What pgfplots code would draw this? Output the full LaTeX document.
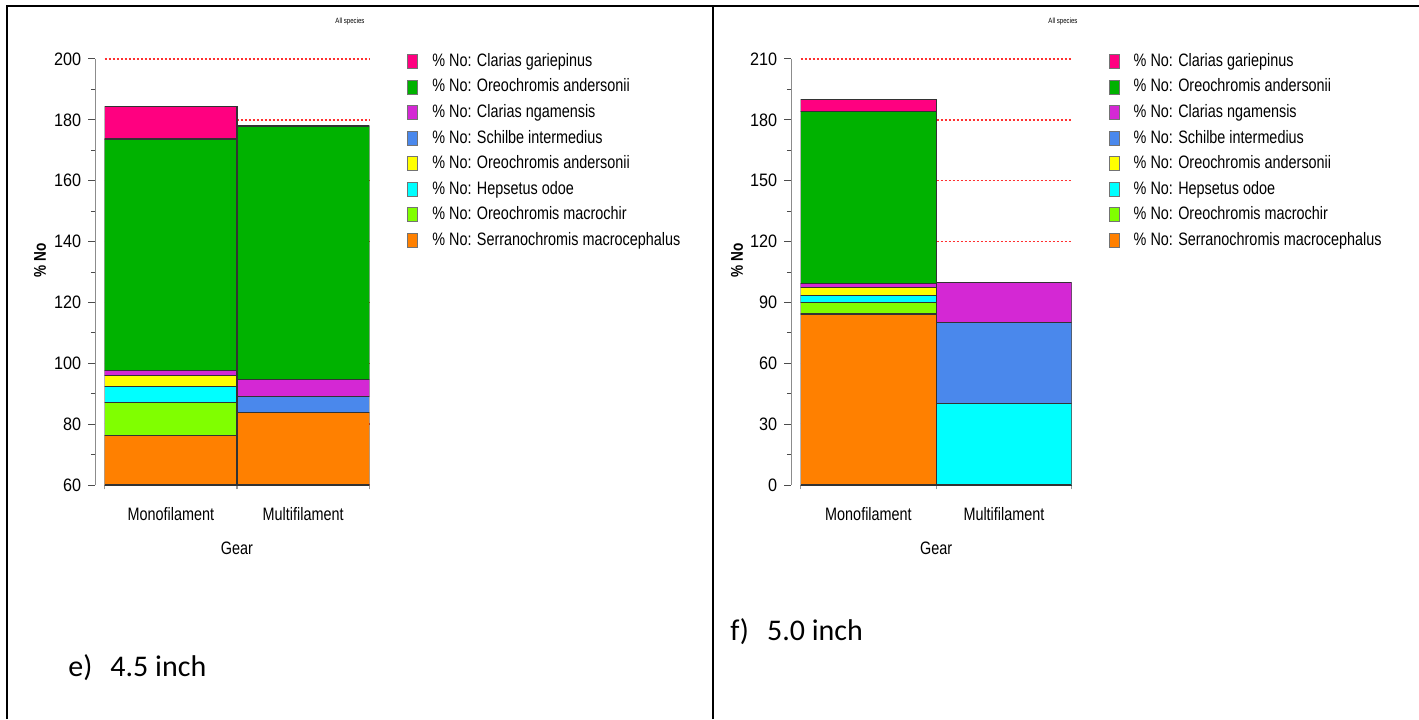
\documentclass[border=0pt]{standalone}
\usepackage{pgfplots}
\pgfplotsset{compat=1.18}
\usepackage{pgfplotstable}
\usepackage{fontspec}
\setmainfont{Carlito}
\newfontfamily\chartfont[FakeStretch=0.8]{Liberation Sans}
\newfontfamily\tickfont[FakeStretch=0.9]{Liberation Sans}

\definecolor{cPink}{HTML}{FF0080}
\definecolor{cGreen}{HTML}{00B200}
\definecolor{cPurple}{HTML}{D428D4}
\definecolor{cBlue}{HTML}{4A88EC}
\definecolor{cYellow}{HTML}{FFFF00}
\definecolor{cCyan}{HTML}{00FFFF}
\definecolor{cLime}{HTML}{80FF00}
\definecolor{cOrange}{HTML}{FF8000}
\definecolor{gridred}{HTML}{FF3030}

% % No by gear; columns run from the bottom of each stack upward
\pgfplotstableread{
pos orange lime cyan yellow blue purple green pink
0   76.4   10.6 5.5  3.4    0    1.7    76.1  10.6
1   83.9   0    0    0      5.2  5.5    83.4  0
}\meshFourFive
\pgfplotstableread{
pos orange lime cyan yellow blue purple green pink
0   84.3   5.6  3.6  4.0    0    1.9    84.6  6.1
1   0      0    40   0      40   20     0     0
}\meshFive

\pgfplotsset{
  gearchart/.style={
    scale only axis, height=213pt,
    ybar stacked, bar width=1,
    xmin=-0.5, xmax=1.5,
    axis lines*=left,
    axis y line shift=4.7pt,
    x axis line style={draw=black!75, line width=0.5pt},
    y axis line style={draw=black!45, line width=0.6pt},
    xtick={0,1}, xticklabels={Monofilament,Multifilament},
    major x tick style={draw=none},
    minor xtick={-0.5,0.5,1.5},
    minor x tick style={draw=black!40, line width=0.6pt},
    minor y tick num=1,
    tick align=outside,
    major tick length=3.5pt, minor tick length=2.2pt,
    major y tick style={draw=black!70, line width=0.5pt},
    minor y tick style={draw=black!70, line width=0.5pt},
    ymajorgrids,
    major grid style={draw=gridred, color=gridred, line width=0.7pt, dash pattern=on 1pt off 1pt},
    /pgf/number format/assume math mode=true,
    yticklabel style={font=\tickfont\fontsize{9}{10}\selectfont},
    xticklabel style={font=\chartfont\fontsize{9}{10}\selectfont, yshift=-4pt},
    xlabel={Gear},
    xlabel style={font=\chartfont\fontsize{9}{10}\selectfont, at={(axis description cs:0.5,-0.148)}, anchor=center},
    ylabel={\bfseries\% No},
    ylabel style={font=\chartfont\fontsize{8.5}{9}\selectfont, anchor=center},
    legend style={draw=none, fill=none, anchor=north west,
      font=\chartfont\fontsize{9}{11}\selectfont, row sep=0.75pt},
    legend cell align=left,
    reverse legend,
    legend image code/.code={%
      \draw[##1, draw=black!55, line width=0.4pt] (0pt,-3.5pt) rectangle (5pt,3.5pt);
      \path[draw=none, fill=none] (5pt,0pt) -- (10.3pt,0pt);},
    every axis plot/.append style={draw=black!80, line width=0.6pt},
  }
}

\begin{document}
\begin{tikzpicture}
\useasboundingbox (0,0) rectangle (709.5pt,359.5pt);

% table frame
\draw[line width=1pt] (3.5pt,0pt) -- (3.5pt,356.5pt) -- (709.5pt,356.5pt);
\draw[line width=1pt] (356.5pt,0pt) -- (356.5pt,356.5pt);

% e) 4.5 inch
\begin{axis}[gearchart, at={(52.35pt,117pt)}, anchor=south west, width=132.3pt,
    ymin=60, ymax=200, ytick={60,80,...,200},
    ylabel style={at={(axis description cs:-0.2445,0.528)}},
    legend style={at={(axis description cs:1.12,1.033)}}]
\addplot[fill=cOrange] table[x=pos,y=orange]{\meshFourFive};
\addlegendentry{\% No: Serranochromis macrocephalus}
\addplot[fill=cLime] table[x=pos,y=lime]{\meshFourFive};
\addlegendentry{\% No: Oreochromis macrochir}
\addplot[fill=cCyan] table[x=pos,y=cyan]{\meshFourFive};
\addlegendentry{\% No: Hepsetus odoe}
\addplot[fill=cYellow] table[x=pos,y=yellow]{\meshFourFive};
\addlegendentry{\% No: Oreochromis andersonii}
\addplot[fill=cBlue] table[x=pos,y=blue]{\meshFourFive};
\addlegendentry{\% No: Schilbe intermedius}
\addplot[fill=cPurple] table[x=pos,y=purple]{\meshFourFive};
\addlegendentry{\% No: Clarias ngamensis}
\addplot[fill=cGreen] table[x=pos,y=green]{\meshFourFive};
\addlegendentry{\% No: Oreochromis andersonii}
\addplot[fill=cPink] table[x=pos,y=pink]{\meshFourFive};
\addlegendentry{\% No: Clarias gariepinus}
\end{axis}

% f) 5.0 inch
\begin{axis}[gearchart, at={(400.35pt,117pt)}, anchor=south west, width=135.5pt,
    ymin=0, ymax=210, ytick={0,30,...,210},
    ylabel style={at={(axis description cs:-0.235,0.528)}},
    legend style={at={(axis description cs:1.113,1.033)}}]
\addplot[fill=cOrange] table[x=pos,y=orange]{\meshFive};
\addlegendentry{\% No: Serranochromis macrocephalus}
\addplot[fill=cLime] table[x=pos,y=lime]{\meshFive};
\addlegendentry{\% No: Oreochromis macrochir}
\addplot[fill=cCyan] table[x=pos,y=cyan]{\meshFive};
\addlegendentry{\% No: Hepsetus odoe}
\addplot[fill=cYellow] table[x=pos,y=yellow]{\meshFive};
\addlegendentry{\% No: Oreochromis andersonii}
\addplot[fill=cBlue] table[x=pos,y=blue]{\meshFive};
\addlegendentry{\% No: Schilbe intermedius}
\addplot[fill=cPurple] table[x=pos,y=purple]{\meshFive};
\addlegendentry{\% No: Clarias ngamensis}
\addplot[fill=cGreen] table[x=pos,y=green]{\meshFive};
\addlegendentry{\% No: Oreochromis andersonii}
\addplot[fill=cPink] table[x=pos,y=pink]{\meshFive};
\addlegendentry{\% No: Clarias gariepinus}
\end{axis}

% chart titles
\node[font=\chartfont\fontsize{3.8}{4}\selectfont] at (175pt,348.5pt) {All species};
\node[font=\chartfont\fontsize{3.8}{4}\selectfont] at (531.5pt,348.5pt) {All species};

% panel captions
\node[anchor=west, font=\fontsize{15}{17}\selectfont, inner sep=0pt] at (34pt,25.5pt) {e)\hspace{9pt}4.5 inch};
\node[anchor=west, font=\fontsize{15}{17}\selectfont, inner sep=0pt] at (365pt,43.5pt) {f)\hspace{9pt}5.0 inch};
\end{tikzpicture}
\end{document}
